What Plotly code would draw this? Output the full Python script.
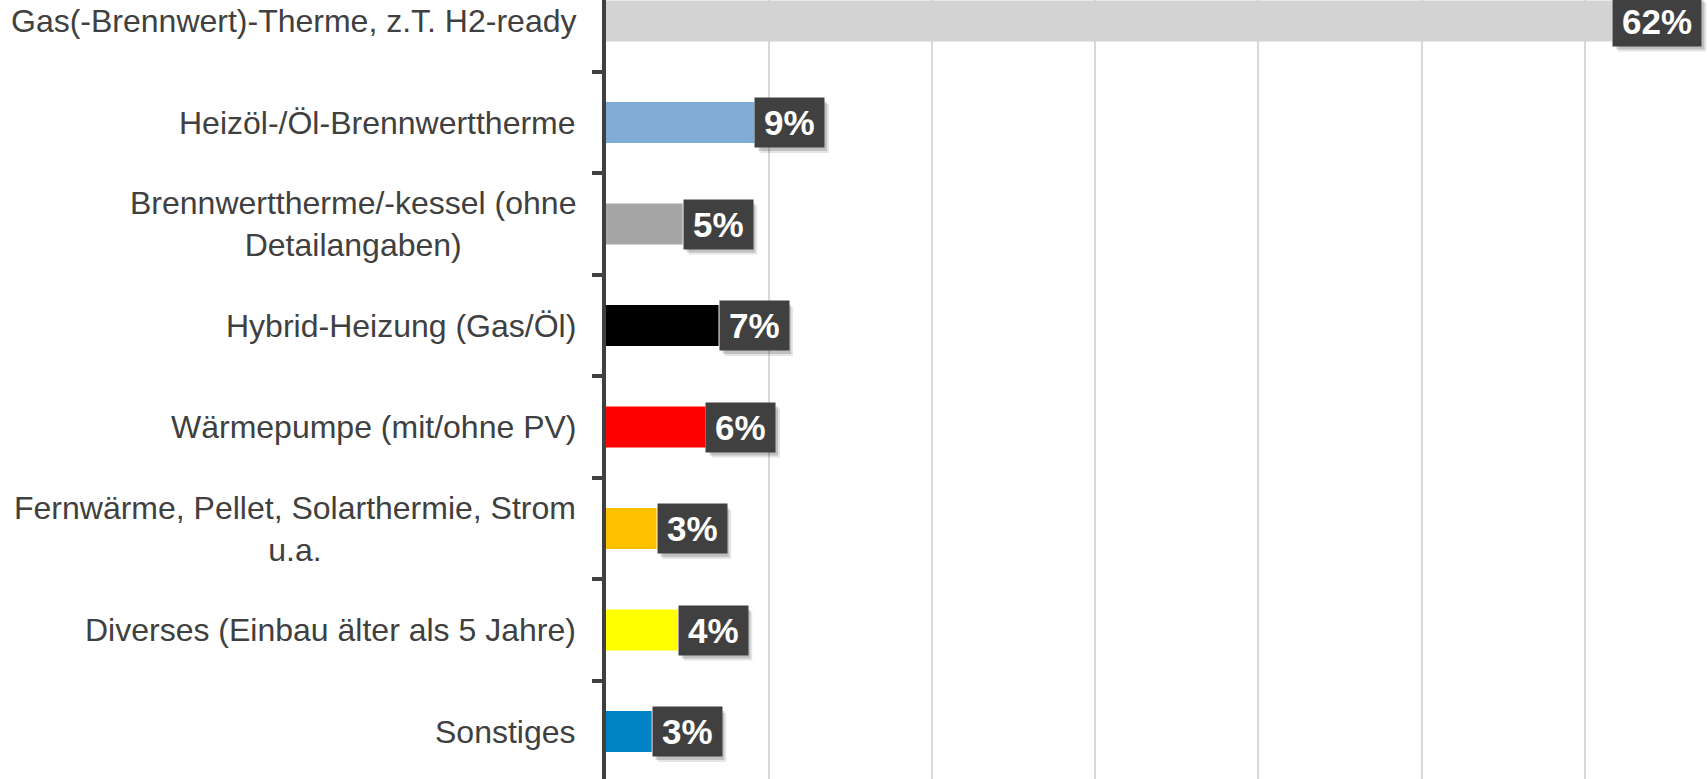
import plotly.graph_objects as go

categories = [
    "Gas(-Brennwert)-Therme, z.T. H2-ready",
    "Heizöl-/Öl-Brennwerttherme",
    "Brennwerttherme/-kessel (ohne<br>Detailangaben)",
    "Hybrid-Heizung (Gas/Öl)",
    "Wärmepumpe (mit/ohne PV)",
    "Fernwärme, Pellet, Solarthermie, Strom<br>u.a.",
    "Diverses (Einbau älter als 5 Jahre)",
    "Sonstiges",
]
values = [61.7, 9.1, 4.7, 6.9, 6.1, 3.1, 4.4, 2.8]
labels = ["62%", "9%", "5%", "7%", "6%", "3%", "4%", "3%"]
colors = ["#d3d3d3", "#80abd5", "#a6a6a6", "#000000", "#ff0000", "#ffc000", "#ffff00", "#0083c5"]

W, H = 1708, 779
L = 606
PX_PER_PCT = 16.31
FONT = "Liberation Sans, Arial, sans-serif"
TXT = "#404040"

ids = list(range(len(categories)))

fig = go.Figure()
fig.add_trace(go.Bar(
    y=ids, x=values, orientation="h",
    marker=dict(color=colors, line=dict(width=0)),
    width=0.404, hoverinfo="skip", showlegend=False,
))

annotations = []
shapes = []
# category labels (centered multi-line)
for i, c in enumerate(categories):
    annotations.append(dict(
        xref="paper", yref="y", x=0, y=i, xanchor="right", yanchor="middle",
        xshift=-29, text=c, showarrow=False, align="center", borderpad=0,
        font=dict(family=FONT, size=32, color=TXT),
    ))

def box_w(t):
    n = sum(ch.isdigit() for ch in t)
    return 18 + 35 * (0.556 * n + 0.889)

BH = 49
# soft drop shadows of value labels (shapes, drawn under annotations)
for i, (v, t) in enumerate(zip(values, labels)):
    w = box_w(t)
    for d, alpha in ((6, 0.10), (4, 0.16)):
        shapes.append(dict(
            type="rect", layer="above",
            xref="x", xsizemode="pixel", xanchor=v, x0=d, x1=d + w,
            yref="y", ysizemode="pixel", yanchor=i, y0=-BH / 2 - d, y1=BH / 2 - d,
            fillcolor=f"rgba(0,0,0,{alpha})", line=dict(width=0),
        ))
# value labels
for i, (v, t) in enumerate(zip(values, labels)):
    annotations.append(dict(
        xref="x", yref="y", x=v, y=i, xanchor="left", yanchor="middle",
        text="<b>" + t + "</b>", showarrow=False, borderpad=0, align="center",
        width=box_w(t), height=BH, bgcolor="#404040",
        font=dict(family=FONT, size=35, color="#ffffff"),
    ))

fig.update_layout(
    width=W, height=H,
    margin=dict(l=L, r=0, t=0, b=0, pad=0),
    paper_bgcolor="white", plot_bgcolor="white",
    annotations=annotations, shapes=shapes,
    bargap=0.596,
    xaxis=dict(
        range=[0, (W - L) / PX_PER_PCT], dtick=10, tick0=0,
        showgrid=True, gridcolor="#d9d9d9", gridwidth=1.5,
        showticklabels=False, zeroline=False, showline=False, ticks="",
        fixedrange=True,
    ),
    yaxis=dict(
        range=[7.468, -0.207],
        tickmode="array", tickvals=[k + 0.5 for k in range(-1, 8)],
        ticktext=[""] * 9,
        ticks="outside", ticklen=10, tickwidth=4, tickcolor=TXT,
        showline=True, linewidth=4, linecolor=TXT,
        showgrid=False, zeroline=False, showticklabels=False,
        fixedrange=True,
    ),
)

fig.write_html(
    "out.html",
    config={"displayModeBar": False},
    post_script="document.body.style.margin='0';document.body.style.overflow='hidden';",
)
